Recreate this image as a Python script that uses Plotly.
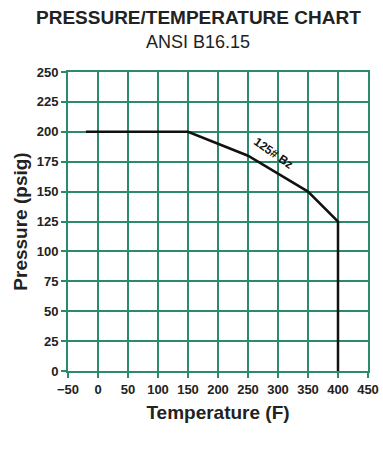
import plotly.graph_objects as go

# Data
temperature_f = [-20, 150, 200, 250, 300, 350, 400, 400]
pressure_psig = [200, 200, 190, 180, 165, 150, 125, 0]
x_ticks = [-50, 0, 50, 100, 150, 200, 250, 300, 350, 400, 450]
y_ticks = [0, 25, 50, 75, 100, 125, 150, 175, 200, 225, 250]
series_label = "125# Bz"
label_pos = (292, 182)

GRID = "#2b8a6c"
FONT = "Liberation Sans, Arial, sans-serif"

fig = go.Figure()
fig.add_trace(go.Scatter(x=temperature_f, y=pressure_psig, mode="lines",
                         line=dict(color="#111111", width=2.5), showlegend=False,
                         hoverinfo="skip"))

fig.update_layout(
    width=383, height=454,
    margin=dict(l=68, r=15, t=72, b=83),
    paper_bgcolor="white", plot_bgcolor="white",
    font=dict(family=FONT, color="#222222"),
    xaxis=dict(range=[-50, 450], tickvals=x_ticks, showgrid=True, gridcolor=GRID,
               gridwidth=2, zeroline=False, showline=True, linecolor=GRID, linewidth=2,
               mirror=True, ticks="outside", tickcolor=GRID, ticklen=5, tickwidth=2,
               automargin=False,
               tickfont=dict(size=13, family=FONT, weight="bold", color="#222222"),
               title=dict(text="<b>Temperature (F)</b>", font=dict(size=19, family=FONT), standoff=10)),
    yaxis=dict(range=[0, 250], tickvals=y_ticks, showgrid=True, gridcolor=GRID,
               gridwidth=2, zeroline=False, showline=True, linecolor=GRID, linewidth=2,
               mirror=True, ticks="outside", tickcolor=GRID, ticklen=5, tickwidth=2,
               automargin=False,
               tickfont=dict(size=13, family=FONT, weight="bold", color="#222222"),
               title=dict(text="<b>Pressure (psig)</b>", font=dict(size=19, family=FONT), standoff=4)),
)

fig.add_annotation(x=0.5, y=1, xref="paper", yref="paper", xanchor="center", yanchor="bottom",
                   yshift=42, xshift=-20, showarrow=False,
                   text="<b>PRESSURE/TEMPERATURE CHART</b>", font=dict(size=19, family=FONT, color="#222222"))
fig.add_annotation(x=0.5, y=1, xref="paper", yref="paper", xanchor="center", yanchor="bottom",
                   yshift=18, xshift=-20, showarrow=False,
                   text="ANSI B16.15", font=dict(size=18, family=FONT, color="#222222"))
fig.add_annotation(x=label_pos[0], y=label_pos[1], showarrow=False, textangle=35,
                   text="<b>" + series_label + "</b>", font=dict(size=12, family=FONT, color="#111111"))

fig.write_html("out.html")
